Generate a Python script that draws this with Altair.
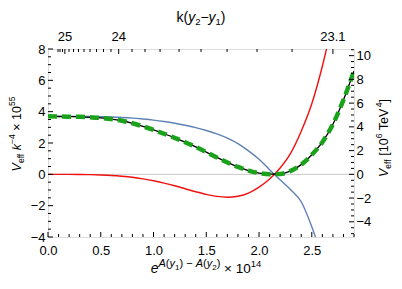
import altair as alt
import pandas as pd

# ---------------- data ----------------
x_grid = [round(0.1 * i, 1) for i in range(30)]          # 0.0 .. 2.9

blue_x = x_grid[:27]                                       # 0.0 .. 2.6
blue_v = [3.70, 3.70, 3.70, 3.70, 3.69, 3.68, 3.66, 3.63, 3.59, 3.53,
          3.46, 3.37, 3.26, 3.13, 2.98, 2.80, 2.58, 2.31, 1.96, 1.50,
          0.96, 0.30, -0.35, -0.98, -1.75, -3.35, -5.30]

red_x = x_grid[:28]                                        # 0.0 .. 2.7
red_v = [0.0, 0.0, -0.005, -0.01, -0.02, -0.04, -0.07, -0.12, -0.19, -0.29,
         -0.41, -0.56, -0.73, -0.92, -1.11, -1.28, -1.41, -1.46, -1.40, -1.20,
         -0.82, -0.30, 0.40, 1.35, 2.75, 4.50, 6.90, 9.80]

black_x = x_grid                                           # 0.0 .. 2.9
black_v = [3.70, 3.69, 3.68, 3.67, 3.64, 3.60, 3.53, 3.42, 3.26, 3.06,
           2.84, 2.59, 2.33, 2.05, 1.75, 1.42, 1.08, 0.76, 0.47, 0.24,
           0.08, 0.01, 0.02, 0.22, 0.62, 1.25, 2.05, 3.20, 4.75, 6.60]

# axes
x_domain = [0, 2.9]
y_left_domain = [-4, 8]
y_right_domain = [-5.28, 10.56]
bottom_major = [0.0, 0.5, 1.0, 1.5, 2.0, 2.5]
bottom_minor = [round(0.1 * i, 1) for i in range(30) if i % 5]
left_major = [-4, -2, 0, 2, 4, 6, 8]
left_minor = [v / 2 for v in range(-8, 17) if v % 4]
right_major = [-4, -2, 0, 2, 4, 6, 8, 10]
right_minor = [v / 2 for v in range(-10, 22) if v % 4]
# top axis: k(y2 - y1) ticks, located at these x values
top_major_x = [0.16, 0.67, 2.70]
top_major_lab = ["25", "24", "23.1"]
top_minor_x = [0.095, 0.114, 0.137,
               0.199, 0.242, 0.289, 0.341, 0.398, 0.46, 0.526, 0.597,
               0.796, 0.919, 1.062, 1.242, 1.450, 1.697, 1.981, 2.313]

FONT = "Liberation Sans"
W, H = 306, 188

xs = alt.Scale(domain=x_domain, nice=False, zero=False)
yl = alt.Scale(domain=y_left_domain, nice=False, zero=False)
yr = alt.Scale(domain=y_right_domain, nice=False, zero=False)

common = dict(title=None, ticks=False, tickSize=0, domain=False, grid=False,
              labelFont=FONT, labelFontSize=13, labelColor="black",
              labelOverlap=False, labelFlush=False)
X_AX = alt.Axis(values=bottom_major, format=".1f", labelPadding=7, **common)
YL_AX = alt.Axis(values=left_major, format="d", labelPadding=3, **common)
YR_AX = alt.Axis(orient="right", values=right_major, format="d", labelPadding=2, **common)


def X(f="x:Q"):
    return alt.X(f, scale=xs, axis=X_AX)


def YL(f="v:Q"):
    return alt.Y(f, scale=yl, axis=YL_AX)


def line(xv, yv, **kw):
    df = pd.DataFrame({"x": xv, "v": yv})
    return alt.Chart(df).mark_line(clip=True, interpolate="monotone", **kw).encode(
        x=X(), y=YL())


zero = alt.Chart(pd.DataFrame({"v": [0]})).mark_rule(
    color="#c8c8c8", strokeWidth=1).encode(y=YL())

bmaj = alt.Chart(pd.DataFrame({"x": bottom_major})).mark_rule(color="black").encode(
    x=X(), y=alt.value(H), y2=alt.value(H - 5))
bmin = alt.Chart(pd.DataFrame({"x": bottom_minor})).mark_rule(color="black").encode(
    x=X(), y=alt.value(H), y2=alt.value(H - 3))

top_maj = alt.Chart(pd.DataFrame({"x": top_major_x})).mark_rule(color="black").encode(
    x=X(), y=alt.value(0), y2=alt.value(5))
top_min = alt.Chart(pd.DataFrame({"x": top_minor_x})).mark_rule(color="black").encode(
    x=X(), y=alt.value(0), y2=alt.value(3))
top_lab = alt.Chart(pd.DataFrame({"x": top_major_x, "t": top_major_lab})).mark_text(
    font=FONT, fontSize=13, color="black", baseline="alphabetic", align="center").encode(
    x=X(), y=alt.value(-8), text="t:N")

lmaj = alt.Chart(pd.DataFrame({"v": left_major})).mark_rule(color="black").encode(
    y=YL(), x=alt.value(0), x2=alt.value(5))
lmin = alt.Chart(pd.DataFrame({"v": left_minor})).mark_rule(color="black").encode(
    y=YL(), x=alt.value(0), x2=alt.value(3))

blue = line(blue_x, blue_v, color="#5e81b5", strokeWidth=1.4)
red = line(red_x, red_v, color="#f01010", strokeWidth=1.4)
black = line(black_x, black_v, color="black", strokeWidth=1.3)
green = line(black_x, black_v, color="#1aa31a", strokeWidth=4.5, strokeDash=[9, 5])

# ---------------- text titles built from pieces ----------------
WID = {"0": 556, "1": 556, "2": 556, "3": 556, "4": 556, "5": 556, "6": 556,
       "7": 556, "8": 556, "9": 556, " ": 278, "(": 333, ")": 333, "[": 278,
       "]": 278, "×": 584, "−": 584, "V": 667, "e": 556, "f": 278, "k": 500,
       "y": 500, "A": 667, "T": 611}


def text_width(t, s):
    return sum(WID.get(c, 556) for c in t) * s / 1000.0


def title(pieces, ax, ay, angle=0):
    total = sum(text_width(t, s) for t, s, _, _ in pieces)
    off = -total / 2.0
    layers = []
    one = pd.DataFrame({"a": [0]})
    for t, s, ital, shift in pieces:
        lead = len(t) - len(t.lstrip(" "))
        core = t.strip(" ")
        start = off + text_width(" " * lead, s)
        if core:
            kw = dict(font=FONT, fontSize=s, color="black", align="left",
                      baseline="alphabetic", dx=start, dy=shift)
            if ital:
                kw["fontStyle"] = "italic"
            if angle:
                kw["angle"] = angle
            layers.append(alt.Chart(one).mark_text(**kw).encode(
                x=alt.value(ax), y=alt.value(ay), text=alt.value(core)))
        off += text_width(t, s)
    return layers


top_title = title([("k(", 14, False, 0), ("y", 14, True, 0), ("2", 9.5, False, 3),
                   ("−", 14, False, 0), ("y", 14, True, 0), ("1", 9.5, False, 3),
                   (")", 14, False, 0)], 153, -27)
left_title = title([("V", 12.5, True, 0), ("eff", 8.5, False, 3), (" ", 12.5, False, 0),
                    ("k", 12.5, True, 0), ("−4", 8.5, False, -6), (" × 10", 12.5, False, 0),
                    ("55", 8.5, False, -6)], -27, 85, angle=270)
right_title = title([("V", 12.5, True, 0), ("eff", 8.5, False, 3), (" [10", 12.5, False, 0),
                     ("6", 8.5, False, -6), (" TeV", 12.5, False, 0), ("4", 8.5, False, -6),
                     ("]", 12.5, False, 0)], 340, 89, angle=270)
bottom_title = title([("e", 14, True, 0), ("A", 11, True, -6), ("(", 11, False, -6),
                      ("y", 11, True, -6), ("1", 8, False, -3.5), (")", 11, False, -6),
                      (" − ", 11, False, -6), ("A", 11, True, -6), ("(", 11, False, -6),
                      ("y", 11, True, -6), ("2", 8, False, -3.5), (")", 11, False, -6),
                      (" × 10", 13.5, False, 0), ("14", 9.5, False, -6)], 158, 224)

left_group = alt.layer(zero, blue, red, black, green, bmaj, bmin,
                       top_maj, top_min, top_lab, lmaj, lmin,
                       *top_title, *left_title, *right_title, *bottom_title)

# right axis (independent scale)
rmaj = alt.Chart(pd.DataFrame({"v": right_major})).mark_rule(color="black").encode(
    y=alt.Y("v:Q", scale=yr, axis=YR_AX), x=alt.value(W), x2=alt.value(W - 5))
rmin = alt.Chart(pd.DataFrame({"v": right_minor})).mark_rule(color="black").encode(
    y=alt.Y("v:Q", scale=yr, axis=YR_AX), x=alt.value(W), x2=alt.value(W - 3))
right_group = alt.layer(rmaj, rmin)

chart = alt.layer(left_group, right_group).resolve_scale(y="independent").properties(
    width=W, height=H,
    autosize=alt.AutoSizeParams(type="none"),
    padding={"left": 40, "top": 41, "right": 40, "bottom": 39},
).configure_view(stroke="black", strokeWidth=1).configure(background="white")

chart.save("out.html", embed_options={"renderer": "svg", "actions": False})
